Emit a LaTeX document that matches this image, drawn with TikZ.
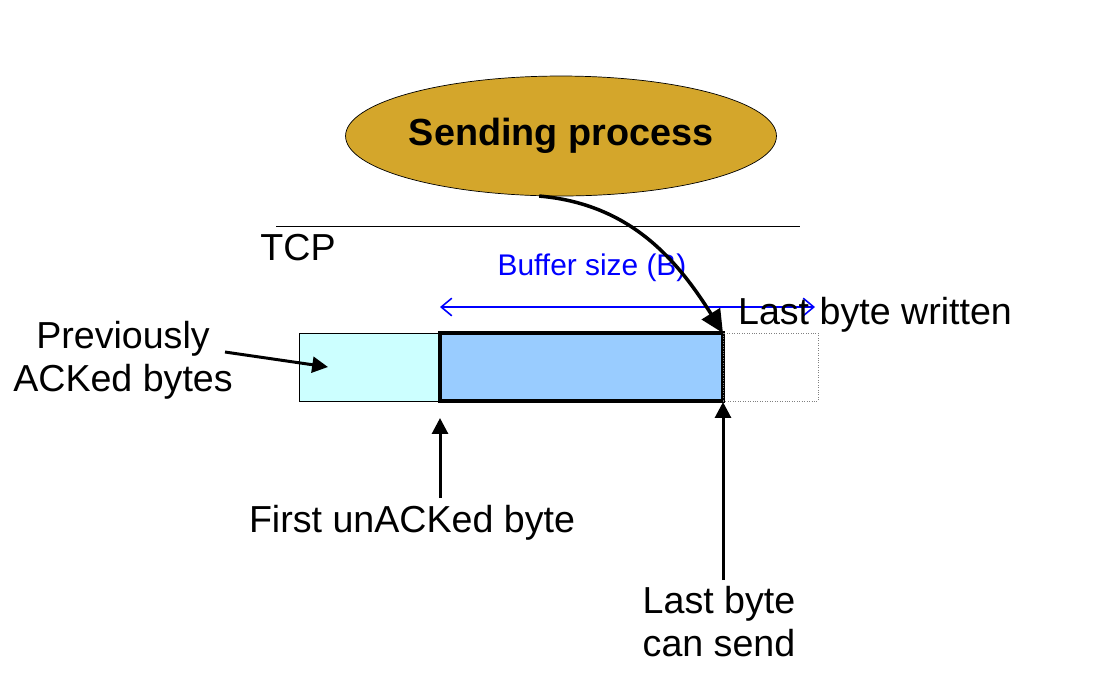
\documentclass[tikz,border=0pt]{standalone}
\usepackage{fontspec}
\setmainfont{Liberation Sans}
\usetikzlibrary{shapes.geometric,arrows.meta,positioning}
\definecolor{procgold}{HTML}{D4A62B}
\definecolor{ackedcyan}{HTML}{CCFFFF}
\definecolor{winblue}{HTML}{99CCFF}

\begin{document}
\begin{tikzpicture}[
    x=0.02cm, y=-0.02cm,
    lbl/.style={font=\fontsize{21.4}{24.5}\selectfont, align=center, inner sep=0pt},
    buf/.style={rectangle, draw=black, minimum height=1.36cm, inner sep=0pt, outer sep=0pt},
    ptr/.style={-{Triangle[length=9pt,width=9pt]}, line width=1.7pt},
  ]
  \useasboundingbox (0,0) rectangle (1101,698);

  \node[ellipse, draw=black, fill=procgold, inner sep=0pt, minimum width=8.62cm, minimum height=2.4cm,
        font=\bfseries\fontsize{21.5}{25}\selectfont] (proc) at (561,136) {Sending process};
  \draw (276,226) -- (800,226);
  \node[lbl] (tcp) at (298,248) {TCP};

  % send buffer
  \node[buf, fill=ackedcyan, minimum width=2.82cm, anchor=west] (acked) at (299,367) {};
  \node[buf, fill=winblue, line width=2.2pt, minimum width=5.66cm, anchor=west] (win) at (440,367) {};
  \node[buf, draw=gray, densely dotted, minimum width=1.9cm, anchor=west] (free) at (723,367) {};

  % buffer size
  \coordinate (bufL) at (440,307);
  \coordinate (bufR) at (815,307);
  \draw[blue, line width=0.9pt, {Straight Barb[length=6pt,width=10pt]}-{Straight Barb[length=6pt,width=10pt]}] (bufL) -- (bufR);
  \node[font=\fontsize{17}{20}\selectfont, text=blue, inner sep=0pt] (bsize) at (592,268) {Buffer size (B)};
  \node[lbl] (written) at (875,315) {Last byte written};

  % labels
  \node[lbl] (prev) at (123,360) {Previously\\ACKed bytes};
  \node[lbl] (first) at (412,523) {First unACKed byte};
  \node[lbl] (lastsend) at (719,622) {Last byte\\can send};

  \coordinate (prevTail) at (225,352);
  \coordinate (prevTip) at (328,367);
  \coordinate (firstTail) at (440,498);
  \coordinate (firstTip) at (440,418);
  \coordinate (sendTail) at (723,580);
  \coordinate (sendTip) at (723,402);

  \draw[ptr, -{Triangle[length=13pt,width=12pt]}, line width=2pt] (proc.-110) to[out=-5, in=122] (win.north east);
  \draw[ptr] (prevTail) -- (prevTip);
  \draw[ptr] (firstTail) -- (firstTip);
  \draw[ptr] (sendTail) -- (sendTip);
\end{tikzpicture}
\end{document}
